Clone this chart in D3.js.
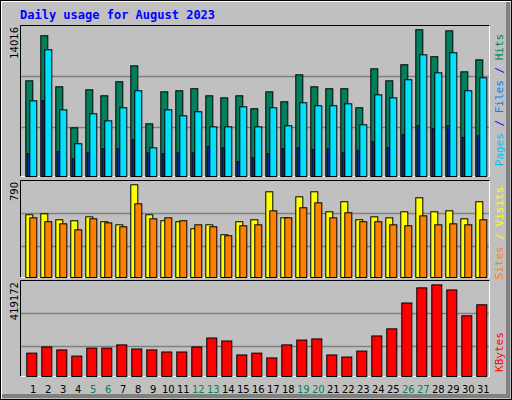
<!DOCTYPE html>
<html><head><meta charset="utf-8">
<script src="https://d3js.org/d3.v7.min.js"></script>
<style>body{margin:0;background:#fff}svg{display:block}</style>
</head><body>
<script>
var days = d3.range(1, 32);
var weekends = [5, 6, 12, 13, 19, 20, 26, 27];
var hits = [8940,13150,8380,4550,8100,7540,8850,10340,4920,7910,8010,8200,7540,7350,7540,6330,7910,6980,9500,8380,8200,8200,6420,10060,8940,10440,13710,11190,13610,9780,10900];
var files = [7070,11840,6230,3060,5860,5200,6420,8010,2680,6230,5670,6050,4640,4640,6510,4640,6420,4740,6890,6610,6610,6790,4830,7630,7350,9040,11370,9690,11560,8010,9220];
var pages = [2120,7070,2310,1650,2210,2590,2590,3430,2210,2120,2210,2210,2780,2680,1370,1750,2120,2590,2680,2500,2590,2210,2400,3240,2680,3900,4740,4460,4740,3620,3800];
var visits = [511,519,470,462,494,454,429,755,511,462,454,397,429,348,454,470,698,486,657,698,535,617,470,494,486,535,649,535,543,478,617];
var sites = [486,454,437,388,478,445,413,600,478,486,462,429,413,340,421,429,543,486,568,608,486,527,454,454,429,421,502,429,437,429,470];
var kbytes = [102000,129000,116000,89000,124000,124000,138000,120000,116000,107000,107000,129000,168000,155000,94000,102000,81000,138000,159000,164000,94000,85000,111000,177000,208000,321000,387000,400000,378000,265000,313000];
var maxHits = 14016, maxVisits = 790, maxKbytes = 419172;

var W = 512, H = 400;
var svg = d3.select('body').append('svg').attr('width', W).attr('height', H);
svg.append('rect').attr('width', W).attr('height', H).attr('fill', '#c0c0c0');
// bevel
svg.append('path').attr('d', 'M1,399V1H511').attr('stroke', '#fff').attr('stroke-width', 2).attr('fill', 'none');
svg.append('path').attr('d', 'M2,396H508V2').attr('stroke', '#808080').attr('stroke-width', 4).attr('fill', 'none');
svg.append('rect').attr('x', 0.5).attr('y', 0.5).attr('width', W - 1).attr('height', H - 1).attr('fill', 'none').attr('stroke', '#000');

svg.append('text').attr('x', 20).attr('y', 19).text('Daily usage for August 2023')
    .attr('font-family', 'DejaVu Sans Mono').attr('font-weight', 'bold').attr('font-size', 12).attr('fill', '#0000ff');

var x = d3.scaleBand().domain(days).range([22, 487]);

function panel(top, bottom, max, grid) {
    svg.append('rect').attr('x', 20.5).attr('y', top + 0.5).attr('width', 469).attr('height', bottom - top)
        .attr('fill', '#c0c0c0');
    svg.append('path').attr('d', 'M20.5,' + (bottom + 0.5) + 'V' + (top + 0.5) + 'H490')
        .attr('stroke', '#000').attr('fill', 'none');
    svg.append('path').attr('d', 'M20.5,' + (bottom + 0.5) + 'H489.5V' + (top + 0.5))
        .attr('stroke', '#fff').attr('fill', 'none');
    grid.forEach(function (g) {
        svg.append('line').attr('x1', 21).attr('x2', 489).attr('y1', g + 0.5).attr('y2', g + 0.5)
            .attr('stroke', '#808080').attr('stroke-width', 1.5);
    });
    svg.append('text').attr('transform', 'translate(18,' + (top + 2) + ') rotate(-90)')
        .attr('text-anchor', 'end').attr('font-family', 'DejaVu Sans').attr('font-size', 10).text(max);
}

function bars(data, y, off, w, color) {
    svg.append('g').selectAll('rect').data(data).enter().append('rect')
        .attr('x', function (d, i) { return x(days[i]) + off + 0.5; })
        .attr('y', function (d) { return y(d) + 0.5; })
        .attr('width', w)
        .attr('height', function (d) { return y(0) - y(d); })
        .attr('fill', color).attr('stroke', '#000');
}

function legend(yc, parts) {
    var t = svg.append('text').attr('transform', 'translate(503,' + yc + ') rotate(-90)')
        .attr('text-anchor', 'middle').attr('font-family', 'DejaVu Sans Mono').attr('font-size', 11);
    parts.forEach(function (p) { t.append('tspan').attr('fill', p[1]).text(p[0]); });
}

// hits panel
panel(25, 176, maxHits, [76, 127]);
var y1 = d3.scaleLinear().domain([0, maxHits]).range([176, 26]);
bars(hits, y1, 3.3, 7, '#00805c');
bars(files, y1, 7.3, 7, '#00e0ff');
bars(pages, y1, 4.7, 2, '#0040ff');
legend(100, [['Pages', '#00c0ff'], [' / ', '#0000ff'], ['Files', '#0080ff'], [' / ', '#0000ff'], ['Hits', '#00805c']]);

// visits panel
panel(180, 277, maxVisits, [213, 246]);
var y2 = d3.scaleLinear().domain([0, maxVisits]).range([277, 180]);
bars(visits, y2, 3.3, 7, '#ffff00');
bars(sites, y2, 7.3, 7, '#ff8000');
legend(233, [['Sites', '#ff8000'], [' / ', '#ffff00'], ['Visits', '#ffff00']]);

// kbytes panel
panel(280, 376, maxKbytes, [313, 346]);
var y3 = d3.scaleLinear().domain([0, maxKbytes]).range([376, 280]);
bars(kbytes, y3, 4.3, 10, '#ff0000');
legend(352, [['KBytes', '#ff0000']]);

svg.append('g').selectAll('text').data(days).enter().append('text')
    .attr('x', function (d) { return x(d) + 11.3; }).attr('y', 393)
    .attr('text-anchor', 'middle').attr('font-family', 'DejaVu Sans').attr('font-size', 10)
    .attr('fill', function (d) { return weekends.indexOf(d) >= 0 ? '#00805c' : '#000'; })
    .text(function (d) { return d; });
</script>
</body></html>
